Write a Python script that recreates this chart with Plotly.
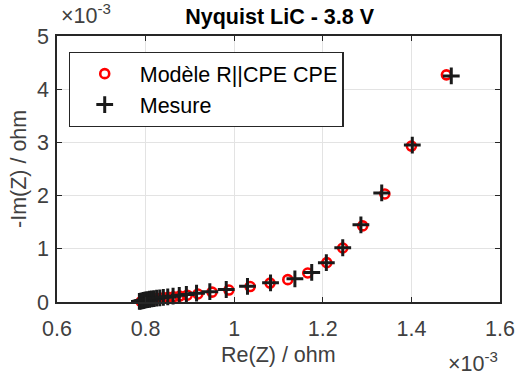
import plotly.graph_objects as go

# values in units of 1e-3 ohm
model_re = [0.790, 0.793, 0.796, 0.799, 0.802, 0.806, 0.810, 0.815, 0.820, 0.826,
            0.833, 0.841, 0.851, 0.863, 0.877, 0.894, 0.918, 0.950, 0.988, 1.036,
            1.081, 1.121, 1.166, 1.209, 1.245, 1.290, 1.340, 1.400, 1.479]
model_im = [0.008, 0.014, 0.020, 0.026, 0.032, 0.038, 0.044, 0.050, 0.056, 0.063,
            0.070, 0.078, 0.087, 0.098, 0.112, 0.128, 0.150, 0.185, 0.225, 0.290,
            0.355, 0.420, 0.545, 0.740, 1.015, 1.430, 2.030, 2.930, 4.270]
meas_re = [0.786, 0.789, 0.792, 0.795, 0.798, 0.801, 0.805, 0.809, 0.814, 0.819,
           0.825, 0.832, 0.840, 0.850, 0.862, 0.876, 0.892, 0.915, 0.945, 0.982,
           1.030, 1.082, 1.137, 1.175, 1.208, 1.245, 1.286, 1.333, 1.402, 1.490]
meas_im = [0.010, 0.016, 0.022, 0.028, 0.034, 0.040, 0.046, 0.052, 0.058, 0.064,
           0.071, 0.078, 0.087, 0.097, 0.110, 0.125, 0.142, 0.165, 0.195, 0.235,
           0.295, 0.360, 0.435, 0.555, 0.740, 1.020, 1.450, 2.050, 2.950, 4.250]

FONT = "Liberation Sans, Arial, sans-serif"
AX = "#262626"
TXT = "#404040"
FS = 21.5

fig = go.Figure()
fig.add_trace(go.Scatter(x=model_re, y=model_im, mode="markers", name="Modèle R||CPE CPE",
                         marker=dict(symbol="circle-open", size=9, color="#ff0000",
                                     line=dict(width=2.6, color="#ff0000")),
                         cliponaxis=False))
fig.add_trace(go.Scatter(x=meas_re, y=meas_im, mode="markers", name="Mesure",
                         marker=dict(symbol="cross-thin", size=12, color="#1a1a1a",
                                     line=dict(width=3, color="#1a1a1a")),
                         cliponaxis=False))

axis_common = dict(showline=True, linecolor=AX, linewidth=1.5, mirror="ticks",
                   ticks="inside", ticklen=5, tickwidth=1.2, tickcolor=AX,
                   showgrid=True, gridcolor="#e3e3e3", gridwidth=1, zeroline=False,
                   automargin=False,
                   tickfont=dict(family=FONT, size=FS, color=TXT))

fig.update_xaxes(range=[0.6, 1.6], dtick=0.2, tick0=0.6, ticklabelstandoff=6, **axis_common)
fig.update_yaxes(range=[0, 5], dtick=1, ticklabelstandoff=2, **axis_common)

fig.update_layout(
    width=515, height=376,
    margin=dict(l=57, r=15, t=36, b=74),
    paper_bgcolor="white", plot_bgcolor="white",
    title=dict(text="<b>Nyquist LiC - 3.8 V</b>", x=0.543, xanchor="center",
               y=0.955, yanchor="middle", yref="container",
               font=dict(family=FONT, size=FS, color="#000000")),
    legend=dict(x=0.026, y=0.94, xanchor="left", yanchor="top",
                bgcolor="white", bordercolor=AX, borderwidth=1.2,
                font=dict(family=FONT, size=FS, color="#000000"),
                itemwidth=60, tracegroupgap=0),
    showlegend=True,
    annotations=[
        dict(text="Re(Z) / ohm", xref="paper", yref="paper", x=0.5, y=0.0,
             xanchor="center", yanchor="middle", showarrow=False, yshift=-53,
             font=dict(family=FONT, size=FS, color=TXT)),
        dict(text="-Im(Z) / ohm", xref="paper", yref="paper", x=0.0, y=0.5,
             xanchor="center", yanchor="middle", showarrow=False, xshift=-38,
             textangle=-90, font=dict(family=FONT, size=FS, color=TXT)),
        dict(text="×10<sup>-3</sup>", xref="paper", yref="paper", x=0.0, y=1.0,
             xanchor="left", yanchor="bottom", showarrow=False, yshift=6, xshift=2,
             font=dict(family=FONT, size=FS, color=TXT)),
        dict(text="×10<sup>-3</sup>", xref="paper", yref="paper", x=1.0, y=0.0,
             xanchor="right", yanchor="top", showarrow=False, yshift=-44,
             font=dict(family=FONT, size=FS, color=TXT)),
    ],
)

fig.write_html("out.html", config={"displayModeBar": False},
               post_script="document.body.style.margin='0';")
